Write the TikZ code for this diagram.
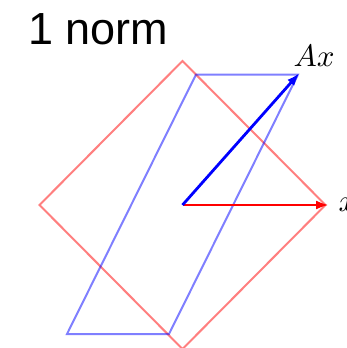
\documentclass[tikz,border=0pt]{standalone}
\usepackage{fontspec}
\newfontfamily\titlefont{Liberation Sans}
\usetikzlibrary{arrows.meta}
\begin{document}
\begin{tikzpicture}[x=1pt,y=-1pt,
  ballred/.style={draw=red,draw opacity=0.5,line width=2pt,line join=miter},
  ballblue/.style={draw=blue,draw opacity=0.5,line width=2pt,line join=miter},
  vec/.style={line width=2.8pt,-{Latex[length=13pt,width=9pt]}},
  lab/.style={inner sep=0pt,scale=3.1}]
\useasboundingbox (0,0) rectangle (346,348);
% title
\node[anchor=base west,inner sep=0pt,font=\titlefont\fontsize{45}{50}\selectfont] (title) at (28,44) {1 norm};
% unit ball of the 1 norm
\coordinate (O) at (182.5,205);
\coordinate (e1) at (325.5,205);
\coordinate (e2) at (182.5,61);
\coordinate (m1) at (39.5,205);
\coordinate (m2) at (182.5,349);
\draw[ballred] (e1) -- (e2) -- (m1) -- (m2) -- cycle;
% image of the ball
\coordinate (Ae1) at (298,74.5);
\coordinate (Ae2) at (196,74.5);
\coordinate (mAe1) at (67,334);
\coordinate (mAe2) at (169,334);
\draw[ballblue] (Ae1) -- (Ae2) -- (mAe1) -- (mAe2) -- cycle;
% vectors
\coordinate (xtip) at (329,205);
\coordinate (Axtip) at (299.5,73);
\draw[vec,red] (O) -- (xtip);
\draw[vec,blue] (O) -- (Axtip);
\node[lab,anchor=base west] (Axl) at (293,66.5) {$Ax$};
\node[lab,anchor=west] (xl) at (338,205) {$x$};
\end{tikzpicture}
\end{document}
